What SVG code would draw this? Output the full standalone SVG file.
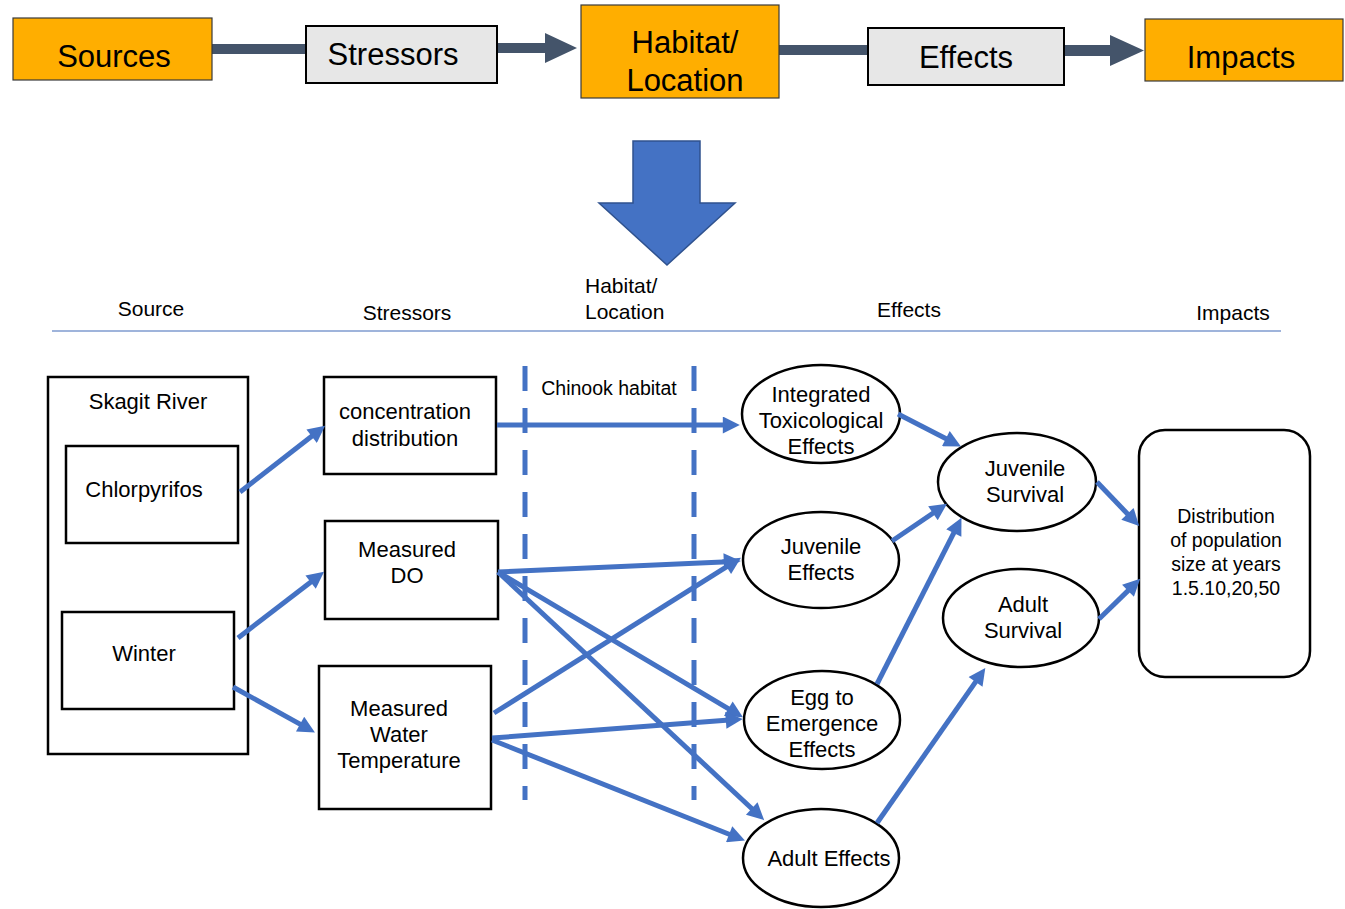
<svg xmlns="http://www.w3.org/2000/svg" width="1345" height="909" viewBox="0 0 1345 909">
<style>
  text { font-family: "Liberation Sans", Arial, sans-serif; fill: #000; text-anchor: middle; }
  .big { font-size: 31px; }
  .lbl { font-size: 22px; }
  .col { font-size: 21px; }
  .orange { fill: #FFAE00; stroke: #3a3a3a; stroke-width: 1.2; }
  .grey { fill: #E7E7E7; stroke: #000; stroke-width: 2; }
  .box { fill: #fff; stroke: #000; stroke-width: 2.5; }
  .bar { fill: #44546A; }
  .conn { stroke: #4472C4; stroke-width: 5; fill: none; marker-end: url(#ah); }
  .dash { stroke: #4472C4; stroke-width: 5; stroke-dasharray: 25 17; fill: none; }
</style>
<defs>
  <marker id="ah" viewBox="0 0 10 10" refX="6" refY="5" markerWidth="4" markerHeight="3.4" orient="auto" markerUnits="strokeWidth">
    <path d="M0,0 L10,5 L0,10 z" fill="#4472C4"/>
  </marker>
</defs>
<rect width="1345" height="909" fill="#fff"/>

<!-- top flow connectors -->
<g id="top-connectors">
  <rect class="bar" x="212" y="44" width="94" height="10"/>
  <polygon class="bar" points="497,43 545,43 545,33 577,48 545,63 545,53 497,53"/>
  <rect class="bar" x="779" y="45" width="89" height="10"/>
  <polygon class="bar" points="1064,45 1110,45 1110,35 1144,50.5 1110,66 1110,56 1064,56"/>
</g>

<g id="top-sources"><rect class="orange" x="13" y="18" width="199" height="62"/><text class="big" x="114" y="67">Sources</text></g>
<g id="top-stressors"><rect class="grey" x="306" y="26" width="191" height="57"/><text class="big" x="393" y="65">Stressors</text></g>
<g id="top-habitat"><rect class="orange" x="581" y="5" width="198" height="93"/><text class="big" x="685" y="53">Habitat/</text><text class="big" x="685" y="91">Location</text></g>
<g id="top-effects"><rect class="grey" x="868" y="28" width="196" height="57"/><text class="big" x="966" y="68">Effects</text></g>
<g id="top-impacts"><rect class="orange" x="1145" y="19" width="198" height="62"/><text class="big" x="1241" y="68">Impacts</text></g>

<!-- big down arrow -->
<g id="down-arrow">
  <polygon points="633,141 700,141 700,203 735,203 667,265 599,203 633,203" fill="#4472C4" stroke="#2F528F" stroke-width="1.5"/>
</g>

<!-- column headings -->
<g id="headings">
  <text class="col" x="151" y="316">Source</text>
  <text class="col" x="407" y="320">Stressors</text>
  <text class="col" x="585" y="293" style="text-anchor:start">Habitat/</text>
  <text class="col" x="585" y="319" style="text-anchor:start">Location</text>
  <text class="col" x="909" y="317">Effects</text>
  <text class="col" x="1233" y="320">Impacts</text>
  <line x1="52" y1="331" x2="1281" y2="331" stroke="#7F9BCF" stroke-width="1.5"/>
</g>

<!-- habitat dashed lines -->
<g id="chinook-habitat">
  <line class="dash" x1="525" y1="366" x2="525" y2="800"/>
  <line class="dash" x1="694" y1="366" x2="694" y2="800"/>
  <text x="609" y="395" style="font-size:19.5px">Chinook habitat</text>
</g>

<!-- source nodes -->
<g id="skagit-river"><rect class="box" x="48" y="377" width="200" height="377"/><text class="lbl" x="148" y="409">Skagit River</text></g>
<g id="chlorpyrifos"><rect class="box" x="66" y="446" width="172" height="97"/><text class="lbl" x="144" y="497">Chlorpyrifos</text></g>
<g id="winter"><rect class="box" x="62" y="612" width="172" height="97"/><text class="lbl" x="144" y="661">Winter</text></g>

<!-- stressor nodes -->
<g id="concentration"><rect class="box" x="324" y="377" width="172" height="97"/><text class="lbl" x="405" y="419">concentration</text><text class="lbl" x="405" y="446">distribution</text></g>
<g id="measured-do"><rect class="box" x="325" y="521" width="173" height="98"/><text class="lbl" x="407" y="557">Measured</text><text class="lbl" x="407" y="583">DO</text></g>
<g id="water-temp"><rect class="box" x="319" y="666" width="172" height="143"/><text class="lbl" x="399" y="716">Measured</text><text class="lbl" x="399" y="742">Water</text><text class="lbl" x="399" y="768">Temperature</text></g>

<!-- effect nodes -->
<g id="integrated"><ellipse class="box" cx="821" cy="414" rx="79" ry="49"/><text class="lbl" x="821" y="402">Integrated</text><text class="lbl" x="821" y="428">Toxicological</text><text class="lbl" x="821" y="454">Effects</text></g>
<g id="juvenile-effects"><ellipse class="box" cx="821" cy="560" rx="78" ry="48"/><text class="lbl" x="821" y="554">Juvenile</text><text class="lbl" x="821" y="580">Effects</text></g>
<g id="egg-emergence"><ellipse class="box" cx="822" cy="720" rx="78" ry="49"/><text class="lbl" x="822" y="705">Egg to</text><text class="lbl" x="822" y="731">Emergence</text><text class="lbl" x="822" y="757">Effects</text></g>
<g id="adult-effects"><ellipse class="box" cx="821" cy="858" rx="78" ry="49"/><text class="lbl" x="829" y="866">Adult Effects</text></g>

<!-- survival nodes -->
<g id="juvenile-survival"><ellipse class="box" cx="1017" cy="482" rx="79" ry="49"/><text class="lbl" x="1025" y="476">Juvenile</text><text class="lbl" x="1025" y="502">Survival</text></g>
<g id="adult-survival"><ellipse class="box" cx="1021" cy="618" rx="78" ry="49"/><text class="lbl" x="1023" y="612">Adult</text><text class="lbl" x="1023" y="638">Survival</text></g>

<!-- impact node -->
<g id="distribution"><rect class="box" x="1139" y="430" width="171" height="247" rx="26" ry="26"/>
  <text x="1226" y="523" style="font-size:19.5px">Distribution</text>
  <text x="1226" y="547" style="font-size:19.5px">of population</text>
  <text x="1226" y="571" style="font-size:19.5px">size at years</text>
  <text x="1226" y="595" style="font-size:19.5px">1.5.10,20,50</text>
</g>

<!-- connectors -->
<g id="connectors">
  <line class="conn" x1="240" y1="492" x2="319.7" y2="430"/>
  <line class="conn" x1="238" y1="638" x2="318.7" y2="575.9"/>
  <line class="conn" x1="233" y1="687" x2="309" y2="729.1"/>
  <line class="conn" x1="497" y1="425" x2="733" y2="425"/>
  <line class="conn" x1="498" y1="572" x2="734" y2="561.4"/>
  <line class="conn" x1="498" y1="572" x2="737.1" y2="713.9"/>
  <line class="conn" x1="498" y1="572" x2="759.2" y2="815.5"/>
  <line class="conn" x1="494" y1="713" x2="735.2" y2="561.3"/>
  <line class="conn" x1="492" y1="738" x2="736" y2="719.6"/>
  <line class="conn" x1="492" y1="740" x2="738.6" y2="838"/>
  <line class="conn" x1="898" y1="414" x2="954.9" y2="443.3"/>
  <line class="conn" x1="892" y1="541" x2="941.4" y2="507.5"/>
  <line class="conn" x1="877" y1="684" x2="958.4" y2="523.9"/>
  <line class="conn" x1="877" y1="823" x2="981.4" y2="673.6"/>
  <line class="conn" x1="1097" y1="482" x2="1134.5" y2="521.2"/>
  <line class="conn" x1="1099" y1="619" x2="1135.3" y2="583.6"/>
</g>
</svg>
